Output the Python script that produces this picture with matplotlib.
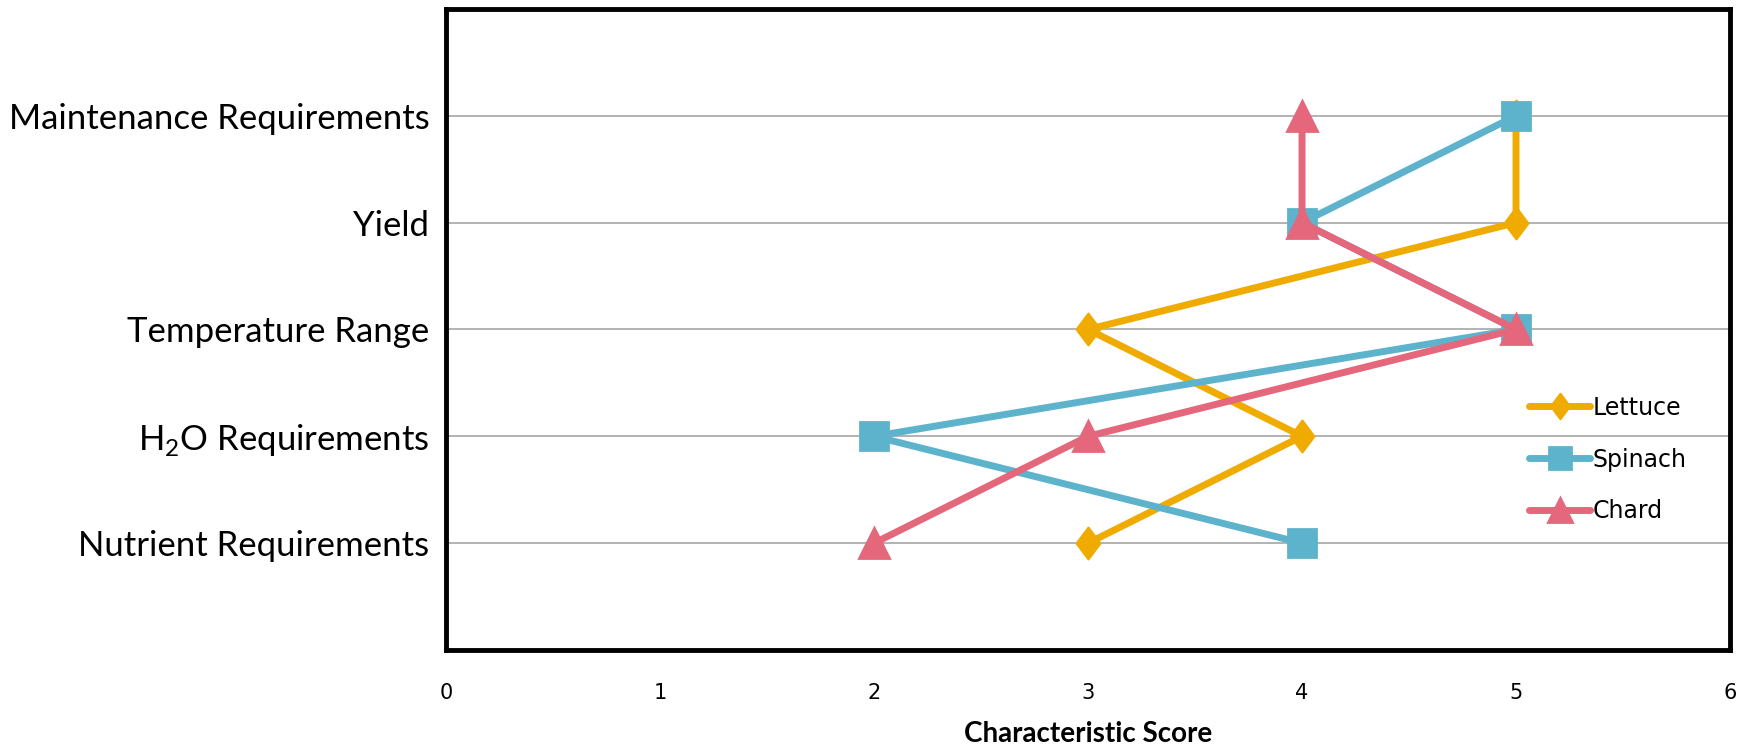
import numpy as np
import matplotlib
matplotlib.use("Agg")
import matplotlib.pyplot as plt

plt.rcParams['font.family'] = ['Lato', 'DejaVu Sans']
plt.rcParams['mathtext.fontset'] = 'custom'
plt.rcParams['mathtext.rm'] = 'Lato'

# categories, bottom to top
characteristics = [
    "Nutrient Requirements",
    r"H$_{\mathrm{2}}$O Requirements",
    "Temperature Range",
    "Yield",
    "Maintenance Requirements",
]

lettuce = [3, 4, 3, 5, 5]
spinach = [4, 2, 5, 4, 5]
chard = [2, 3, 5, 4, 4]

x_ticks = [0, 1, 2, 3, 4, 5, 6]

# wider diamond than the built-in thin one
diamond = [(-0.75, 0), (0, 1), (0.75, 0), (0, -1), (-0.75, 0)]

fig = plt.figure(figsize=(17.48, 7.47), dpi=100)
ax = fig.add_axes([0.2552, 0.1299, 0.7345, 0.8581])

ypos = np.arange(len(characteristics))

for y in ypos:
    ax.axhline(y, color='#a6a6a6', lw=1.2, zorder=1)

ax.plot(lettuce, ypos, color='#f0ab00', lw=5, marker=diamond, ms=23,
        mew=1.5, mec='#f0ab00', label='Lettuce', zorder=3,
        solid_capstyle='round', solid_joinstyle='round')
ax.plot(spinach, ypos, color='#5db3cb', lw=5, marker='s', ms=20,
        mew=2, mec='#5db3cb', label='Spinach', zorder=4,
        solid_capstyle='round', solid_joinstyle='round')
ax.plot(chard, ypos, color='#e5677b', lw=5, marker='^', ms=21,
        mew=2, mec='#e5677b', label='Chard', zorder=5,
        solid_capstyle='round', solid_joinstyle='round')

ax.set_xlim(0, 6)
ax.set_ylim(-1, 5)
ax.set_xticks(x_ticks)
ax.set_xticklabels([str(t) for t in x_ticks], fontsize=15,
                   family='DejaVu Sans')
ax.set_yticks(ypos)
ax.set_yticklabels(characteristics, fontsize=25)
ax.tick_params(axis='x', length=0, pad=24)
ax.tick_params(axis='y', length=0, pad=12)

ax.set_xlabel("Characteristic Score", fontsize=20, fontweight='bold',
              labelpad=13)

for s in ax.spines.values():
    s.set_linewidth(3.5)
    s.set_color('black')

leg = ax.legend(loc='upper left', bbox_to_anchor=(0.868, 0.486),
                bbox_transform=fig.transFigure, frameon=False,
                prop={'family': 'DejaVu Sans', 'size': 17},
                handlelength=2.6, handletextpad=0.1,
                labelspacing=1.18, borderpad=0, markerscale=0.8)

fig.savefig("out.png", dpi=100)
